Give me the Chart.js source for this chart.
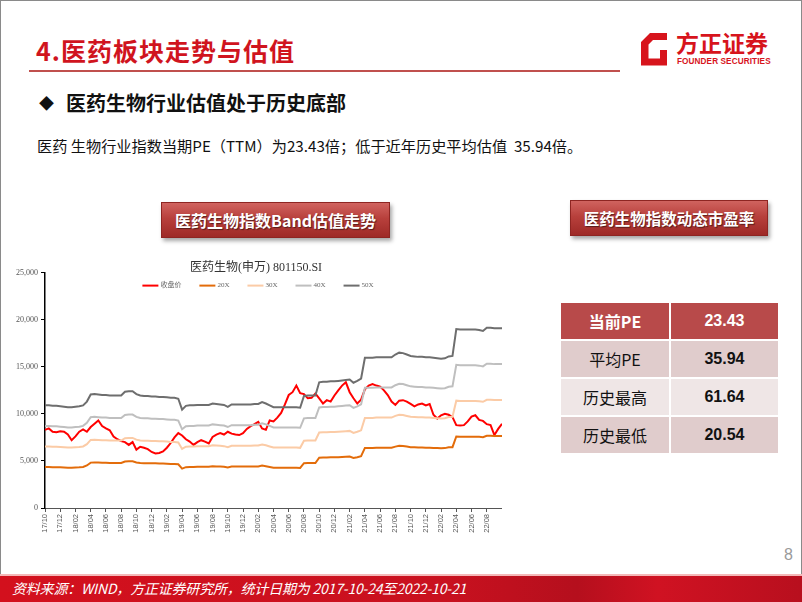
<!DOCTYPE html>
<html>
<head>
<meta charset="utf-8">
<script src="https://cdn.jsdelivr.net/npm/chart.js@4.4.1/dist/chart.umd.min.js"></script>
<style>
  html, body { margin: 0; padding: 0; background: #fff; }
  #slide { position: relative; width: 802px; height: 602px; overflow: hidden; background: #fff;
           font-family: "Noto Sans CJK SC", "Noto Sans", sans-serif; }
  #frame { position: absolute; left: 0; top: 0; width: 800px; height: 600px; border: 1px solid #8a8a8a; }
  .abs { position: absolute; white-space: nowrap; }
  #title { left: 36px; top: 34px; font-size: 25px; font-weight: bold; color: #D0141E; letter-spacing: 1px; line-height: 32px; }
  #titleLine { left: 29px; top: 70px; width: 591px; height: 2px; background: #C0504D; }
  #bullet { left: 39px; top: 90px; font-size: 20px; font-weight: bold; color: #111; line-height: 26px; }
  #bullet .dia { font-size: 15px; margin-right: 12px; position: relative; top: -2px; }
  #body { left: 37px; top: 135px; font-size: 15.2px; color: #111; line-height: 20px; }
  .btn { height: 34px; line-height: 34px; text-align: center; color: #fff; font-weight: bold; font-size: 16px;
         background: linear-gradient(180deg, #D0635F 0%, #B8403C 45%, #9E2A27 100%);
         border: 1px solid #8E2522; box-shadow: 2px 3px 4px rgba(0,0,0,0.35); text-shadow: 1px 1px 1px rgba(0,0,0,0.5); }
  #btn1 { left: 161px; top: 202px; width: 227px; }
  #btn2 { left: 570px; top: 200px; width: 196px; font-size: 15.5px; }
  #tbl { position: absolute; left: 559px; top: 301px; width: 221px; border-collapse: collapse; }
  #tbl td { height: 36px; text-align: center; font-size: 16px; color: #111; border: 2px solid #fff; padding: 0; }
  #tbl td.v { font-weight: bold; font-family: "Liberation Sans", Arial, sans-serif; font-size: 16px; }
  #tbl tr.h td { background: #B84A4A; color: #fff; font-weight: bold; }
  #tbl tr.a td { background: #E0CCCC; }
  #tbl tr.b td { background: #EFE6E6; }
  #footer { left: 0; top: 574px; width: 802px; height: 28px;
            border-top: 2px solid #F4B8B8;
            background: linear-gradient(90deg, #D3101D 0%, #C9111F 55%, #B50F1D 72%, #D01222 82%, #B80F1E 100%); }
  #footText { left: 12px; top: 578px; font-size: 14px; font-style: italic; color: #fff; line-height: 20px; letter-spacing: -0.2px; }
  #pageNo { left: 784px; top: 546px; font-size: 16px; color: #9a9a9a; font-family: "Liberation Sans", sans-serif; }
  #logoTxt { left: 676px; top: 29px; font-size: 23px; font-weight: bold; color: #D7141C; line-height: 26px; letter-spacing: 0px; }
  #logoSub { left: 677px; top: 57px; font-size: 8.2px; font-weight: bold; color: #D7141C; font-family: "Liberation Sans", Arial, sans-serif; letter-spacing: 0.1px; }
  #chartBox { position: absolute; left: 10px; top: 250px; width: 492px; height: 298px; }
</style>
</head>
<body>
<div id="slide">
  <div id="frame"></div>
  <div class="abs" id="title">4.医药板块走势与估值</div>
  <div class="abs" id="titleLine"></div>
  <svg class="abs" style="left:0;top:0" width="802" height="80">
    <path d="M650 33 L667 33 L667 40 L653 40 L648.5 44.5 L648.5 58.5 L660 58.5 L660 50 L667 50 L667 65.5 L641 65.5 L641 42 Z" fill="#D7141C"/>
  </svg>
  <div class="abs" id="logoTxt">方正证券</div>
  <div class="abs" id="logoSub">FOUNDER SECURITIES</div>
  <div class="abs" id="bullet"><span class="dia">◆</span>医药生物行业估值处于历史底部</div>
  <div class="abs" id="body">医药 生物行业指数当期PE（TTM）为23.43倍；低于近年历史平均估值&nbsp; 35.94倍。</div>
  <div class="abs btn" id="btn1">医药生物指数Band估值走势</div>
  <div class="abs btn" id="btn2">医药生物指数动态市盈率</div>
  <table id="tbl">
    <tr class="h"><td style="width:108px">当前PE</td><td class="v">23.43</td></tr>
    <tr class="a"><td>平均PE</td><td class="v">35.94</td></tr>
    <tr class="b"><td>历史最高</td><td class="v">61.64</td></tr>
    <tr class="a"><td>历史最低</td><td class="v">20.54</td></tr>
  </table>
  <div id="chartBox"><canvas id="c"></canvas></div>
  <div class="abs" id="pageNo">8</div>
  <div class="abs" id="footer"></div>
  <div class="abs" id="footText">资料来源：WIND，方正证券研究所，统计日期为 2017-10-24至2022-10-21</div>
</div>
<script>
const categories = [
 '2017-10-24','2017-11-09','2017-11-24','2017-12-09','2017-12-24',
 '2018-01-09','2018-01-24','2018-02-09','2018-02-24','2018-03-09','2018-03-24','2018-04-09','2018-04-24','2018-05-09','2018-05-24','2018-06-09','2018-06-24',
 '2018-07-09','2018-07-24','2018-08-09','2018-08-24','2018-09-09','2018-09-24','2018-10-09','2018-10-24','2018-11-09','2018-11-24','2018-12-09','2018-12-24',
 '2019-01-09','2019-01-24','2019-02-09','2019-02-24','2019-03-09','2019-03-24','2019-04-09','2019-04-24','2019-05-09','2019-05-24','2019-06-09','2019-06-24',
 '2019-07-09','2019-07-24','2019-08-09','2019-08-24','2019-09-09','2019-09-24','2019-10-09','2019-10-24','2019-11-09','2019-11-24','2019-12-09','2019-12-24',
 '2020-01-09','2020-01-24','2020-02-09','2020-02-24','2020-03-09','2020-03-24','2020-04-09','2020-04-24','2020-05-09','2020-05-24','2020-06-09','2020-06-24',
 '2020-07-09','2020-07-24','2020-08-09','2020-08-24','2020-09-09','2020-09-24','2020-10-09','2020-10-24','2020-11-09','2020-11-24','2020-12-09','2020-12-24',
 '2021-01-09','2021-01-24','2021-02-09','2021-02-24','2021-03-09','2021-03-24','2021-04-09','2021-04-24','2021-05-09','2021-05-24','2021-06-09','2021-06-24',
 '2021-07-09','2021-07-24','2021-08-09','2021-08-24','2021-09-09','2021-09-24','2021-10-09','2021-10-24','2021-11-09','2021-11-24','2021-12-09','2021-12-24',
 '2022-01-09','2022-01-24','2022-02-09','2022-02-24','2022-03-09','2022-03-24','2022-04-09','2022-04-24','2022-05-09','2022-05-24','2022-06-09','2022-06-24',
 '2022-07-09','2022-07-24','2022-08-09','2022-08-24','2022-09-09','2022-09-24','2022-10-09','2022-10-21'
];
const tickLabels = ['17/10','17/12','18/02','18/04','18/06','18/08','18/10','18/12','19/02','19/04','19/06','19/08','19/10','19/12',
 '20/02','20/04','20/06','20/08','20/10','20/12','21/02','21/04','21/06','21/08','21/10','21/12','22/02','22/04','22/06','22/08'];
const yTicks = [0, 5000, 10000, 15000, 20000, 25000];

const closePrice = [
 8300,8450,8100,8050,8150,8100,7800,7200,7600,8100,
 8350,8100,8600,8950,9300,8700,8450,8250,7600,7300,
 7100,7000,6700,7000,6200,6500,6400,6250,5950,5800,
 5850,6000,6400,6900,7500,7950,7700,7300,7050,6700,
 7000,7200,7050,6850,7550,7800,7950,7800,8100,7900,
 7800,7750,7950,8400,8700,8900,9150,8450,8300,9300,
 9200,9600,10100,11000,12000,12300,13000,12200,12100,11650,
 11700,12150,11650,11100,11450,11300,11950,12500,13000,13350,
 12300,11650,11100,11500,12600,13000,13150,13000,12900,12500,
 12000,11300,10950,11400,11450,11300,11050,10800,11000,11100,
 10900,11050,9900,9500,9850,10000,9900,9650,8800,8750,
 8800,9200,9700,9850,9350,9250,8900,8800,7750,8400,
 8950];
const pe20x = [
 4360,4360,4340,4340,4320,4300,4280,4280,4300,4320,
 4360,4520,4820,4840,4820,4800,4800,4780,4780,4780,
 4780,4940,4960,4960,4840,4780,4760,4760,4740,4740,
 4720,4720,4700,4680,4680,4640,4180,4340,4360,4360,
 4380,4380,4380,4380,4440,4420,4400,4380,4300,4400,
 4400,4400,4400,4400,4400,4420,4420,4500,4440,4360,
 4280,4280,4280,4280,4280,4280,4280,4260,4760,4780,
 4780,4780,5340,5360,5360,5380,5380,5400,5420,5440,
 5460,5320,5400,5500,6380,6380,6380,6400,6400,6400,
 6400,6400,6520,6600,6580,6520,6460,6440,6420,6420,
 6400,6400,6380,6360,6340,6360,6440,6460,7600,7580,
 7580,7580,7580,7580,7560,7520,7660,7660,7640,7640,
 7640];
const pe30x = [
 6540,6540,6510,6510,6480,6450,6420,6420,6450,6480,
 6540,6780,7230,7260,7230,7200,7200,7170,7170,7170,
 7170,7410,7440,7440,7260,7170,7140,7140,7110,7110,
 7080,7080,7050,7020,7020,6960,6270,6510,6540,6540,
 6570,6570,6570,6570,6660,6630,6600,6570,6450,6600,
 6600,6600,6600,6600,6600,6630,6630,6750,6660,6540,
 6420,6420,6420,6420,6420,6420,6420,6390,7140,7170,
 7170,7170,8010,8040,8040,8070,8070,8100,8130,8160,
 8190,7980,8100,8250,9570,9570,9570,9600,9600,9600,
 9600,9600,9780,9900,9870,9780,9690,9660,9630,9630,
 9600,9600,9570,9540,9510,9540,9660,9690,11400,11370,
 11370,11370,11370,11370,11340,11280,11490,11490,11460,11460,
 11460];
const pe40x = [
 8720,8720,8680,8680,8640,8600,8560,8560,8600,8640,
 8720,9040,9640,9680,9640,9600,9600,9560,9560,9560,
 9560,9880,9920,9920,9680,9560,9520,9520,9480,9480,
 9440,9440,9400,9360,9360,9280,8360,8680,8720,8720,
 8760,8760,8760,8760,8880,8840,8800,8760,8600,8800,
 8800,8800,8800,8800,8800,8840,8840,9000,8880,8720,
 8560,8560,8560,8560,8560,8560,8560,8520,9520,9560,
 9560,9560,10680,10720,10720,10760,10760,10800,10840,10880,
 10920,10640,10800,11000,12760,12760,12760,12800,12800,12800,
 12800,12800,13040,13200,13160,13040,12920,12880,12840,12840,
 12800,12800,12760,12720,12680,12720,12880,12920,15200,15160,
 15160,15160,15160,15160,15120,15040,15320,15320,15280,15280,
 15280];
const pe50x = [
 10900,10900,10850,10850,10800,10750,10700,10700,10750,10800,
 10900,11300,12050,12100,12050,12000,12000,11950,11950,11950,
 11950,12350,12400,12400,12100,11950,11900,11900,11850,11850,
 11800,11800,11750,11700,11700,11600,10450,10850,10900,10900,
 10950,10950,10950,10950,11100,11050,11000,10950,10750,11000,
 11000,11000,11000,11000,11000,11050,11050,11250,11100,10900,
 10700,10700,10700,10700,10700,10700,10700,10650,11900,11950,
 11950,11950,13350,13400,13400,13450,13450,13500,13550,13600,
 13650,13300,13500,13750,15950,15950,15950,16000,16000,16000,
 16000,16000,16300,16500,16450,16300,16150,16100,16050,16050,
 16000,16000,15950,15900,15850,15900,16100,16150,19000,18950,
 18950,18950,18950,18950,18900,18800,19150,19150,19100,19100,
 19100];
const seriesNames = ['收盘价', '20X', '30X', '40X', '50X'];
const chartTitle = '医药生物(申万) 801150.SI';

// ---- styles ----
const colors = ['#FF0000', '#E36C0A', '#FBCBA6', '#BFBFBF', '#6E6E6E'];
const seriesData = [closePrice, pe20x, pe30x, pe40x, pe50x];

const datasets = seriesData.map((d, k) => ({
  label: seriesNames[k],
  data: d,
  borderColor: colors[k],
  backgroundColor: colors[k],
  borderWidth: 2,
  pointRadius: 0,
  tension: 0,
  order: 5 - k
}));

// horizontal legend drawn inside the plot area (as in the source chart)
const bandLegend = {
  id: 'bandLegend',
  afterDraw(chart) {
    const ctx = chart.ctx;
    ctx.save();
    ctx.font = "7px 'Liberation Serif', 'Noto Sans CJK SC', serif";
    const lineLen = 16, textGap = 2, itemGap = 18;
    const items = chart.data.datasets.map(ds => ({
      text: ds.label, color: ds.borderColor,
      w: lineLen + textGap + ctx.measureText(ds.label).width
    }));
    const total = items.reduce((s, it) => s + it.w, 0) + itemGap * (items.length - 1);
    let x = chart.width / 2 - total / 2 + 2;
    const y = chart.chartArea.top + 13;
    items.forEach(it => {
      ctx.strokeStyle = it.color; ctx.lineWidth = 2;
      ctx.beginPath(); ctx.moveTo(x, y); ctx.lineTo(x + lineLen, y); ctx.stroke();
      ctx.fillStyle = '#666'; ctx.textBaseline = 'middle'; ctx.textAlign = 'left';
      ctx.fillText(it.text, x + lineLen + textGap, y);
      x += it.w + itemGap;
    });
    ctx.restore();
  }
};

new Chart(document.getElementById('c'), {
  type: 'line',
  data: { labels: categories, datasets },
  plugins: [bandLegend],
  options: {
    responsive: true,
    maintainAspectRatio: false,
    animation: false,
    layout: { padding: { left: 0, right: 0, top: 0, bottom: 0 } },
    plugins: {
      title: {
        display: true, text: chartTitle, color: '#333',
        font: { family: "'Liberation Serif', 'Noto Sans CJK SC', serif", size: 12, lineHeight: 0.8, weight: 'normal' },
        padding: { top: 13, bottom: 0 }
      },
      legend: { display: false },
      tooltip: { enabled: false }
    },
    scales: {
      x: {
        type: 'category',
        offset: false,
        grid: { display: true, drawOnChartArea: false, drawTicks: true, tickLength: 4, color: '#555' },
        border: { display: true, color: '#555', width: 1 },
        ticks: {
          autoSkip: false, maxRotation: 90, minRotation: 90, padding: 2,
          color: '#555',
          font: { family: "'Liberation Sans', sans-serif", size: 7.5 },
          callback: function(value, index) { return index % 4 === 0 ? tickLabels[index / 4] : null; }
        },
        afterFit: (s) => { s.height = 40; }
      },
      y: {
        min: 0, max: 25000,
        afterBuildTicks: (s) => { s.ticks = yTicks.map(v => ({ value: v })); },
        grid: { display: true, drawOnChartArea: false, drawTicks: true, tickLength: 4, color: '#000' },
        border: { display: true, color: '#000', width: 1.5 },
        ticks: {
          color: '#555', padding: 3,
          font: { family: "'Liberation Serif', serif", size: 8 },
          callback: (v) => v.toLocaleString('en-US')
        },
        afterFit: (s) => { s.width = 35; }
      }
    }
  }
});
</script>
</body>
</html>
